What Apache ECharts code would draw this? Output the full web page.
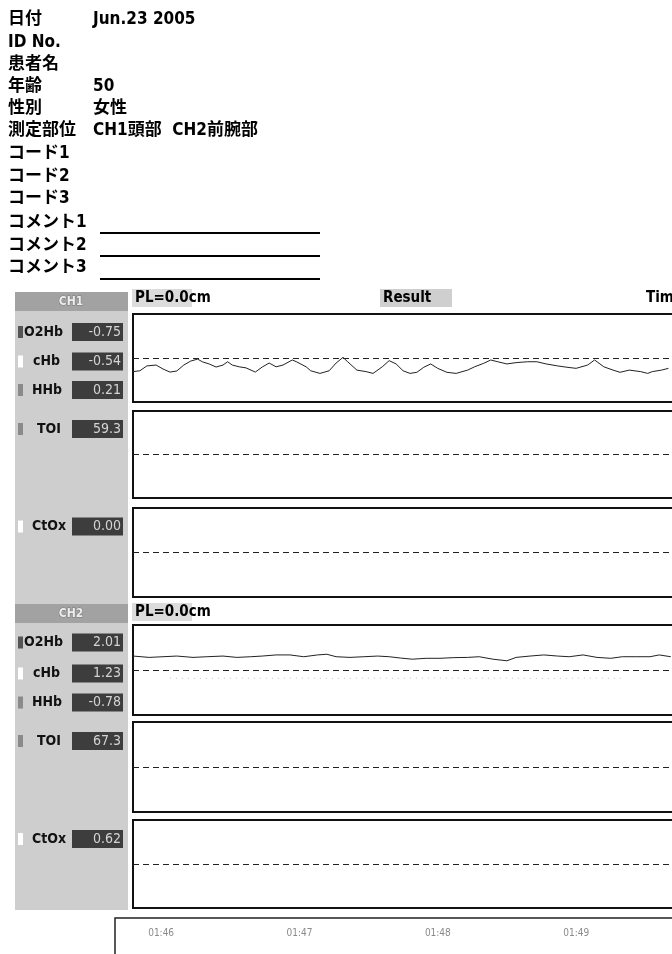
<!DOCTYPE html>
<html>
<head>
    <meta charset="utf-8">
    <script src="https://cdn.jsdelivr.net/npm/echarts@6/dist/echarts.min.js"></script>
    <style>
        body { margin: 0; background: #fff; }
        #main { width: 672px; height: 954px; }
    </style>
</head>
<body>
    <div id="main"></div>
    <script type="text/javascript">
        var infoLabels = ['日付', 'ID No.', '患者名', '年齢', '性別', '測定部位', 'コード1', 'コード2', 'コード3', 'コメント1', 'コメント2', 'コメント3'];
        var infoValues = ['Jun.23 2005', '', '', '50', '女性', 'CH1頭部  CH2前腕部', '', '', '', '', '', ''];

        var paramNames = ['O2Hb', 'cHb', 'HHb', 'TOI', 'CtOx'];
        var ch1Values = ['-0.75', '-0.54', '0.21', '59.3', '0.00'];
        var ch2Values = ['2.01', '1.23', '-0.78', '67.3', '0.62'];

        // time in seconds from 01:46:00
        var ch1Time = [-12, -9, -6, -2, 1, 4, 7, 10, 13, 16, 18, 21, 24, 27, 29, 31, 34, 37, 41, 44, 47, 50, 53, 57, 59, 63, 65, 69, 73, 76, 79, 81, 85, 89, 92, 96, 99, 102, 105, 108, 111, 114, 117, 120, 124, 128, 133, 136, 140, 143, 146, 150, 154, 159, 163, 167, 172, 176, 180, 185, 188, 192, 196, 199, 203, 208, 211, 213, 217, 220];
        var ch1Wave = [-0.62, -0.58, -0.36, -0.32, -0.50, -0.64, -0.59, -0.32, -0.14, -0.05, -0.17, -0.27, -0.41, -0.32, -0.17, -0.32, -0.40, -0.45, -0.64, -0.41, -0.23, -0.40, -0.32, -0.09, -0.18, -0.40, -0.58, -0.70, -0.58, -0.23, 0.03, -0.17, -0.55, -0.62, -0.70, -0.40, -0.12, -0.27, -0.58, -0.70, -0.65, -0.42, -0.27, -0.47, -0.65, -0.70, -0.55, -0.40, -0.24, -0.09, -0.17, -0.27, -0.21, -0.17, -0.17, -0.27, -0.36, -0.42, -0.47, -0.32, -0.09, -0.40, -0.55, -0.65, -0.55, -0.62, -0.70, -0.62, -0.55, -0.47];

        var ch2Time = [-12, -5, 1, 7, 14, 20, 27, 33, 39, 44, 50, 56, 62, 68, 72, 76, 82, 88, 94, 99, 104, 109, 115, 121, 127, 133, 138, 144, 150, 154, 160, 166, 172, 177, 183, 189, 195, 200, 206, 212, 216, 221];
        var ch2Wave = [0.62, 0.56, 0.59, 0.62, 0.56, 0.59, 0.62, 0.56, 0.59, 0.62, 0.67, 0.67, 0.59, 0.67, 0.70, 0.59, 0.56, 0.59, 0.62, 0.59, 0.53, 0.48, 0.52, 0.52, 0.55, 0.56, 0.59, 0.48, 0.41, 0.56, 0.62, 0.67, 0.62, 0.59, 0.67, 0.56, 0.52, 0.59, 0.59, 0.59, 0.67, 0.59];

        var ch2FaintTime = [4, 18, 32, 46, 60, 74, 88, 104, 118, 132, 150, 166, 184, 200];
        var ch2Faint = [-0.36, -0.38, -0.36, -0.37, -0.36, -0.38, -0.36, -0.37, -0.35, -0.37, -0.36, -0.38, -0.36, -0.37];

        var timeTicks = [0, 60, 120, 180];
        var timeLabels = ['01:46', '01:47', '01:48', '01:49'];

        var narrow = "'Liberation Sans Narrow', 'DejaVu Sans Condensed', 'Noto Sans CJK JP', sans-serif";

        function zip(xs, ys) {
            return xs.map(function(x, i) { return [x, ys[i]]; });
        }

        var myChart = echarts.init(document.getElementById('main'), null, { renderer: 'canvas' });

        // grid layout
        var gridTops = [314, 411, 508, 625, 722, 820];
        var gridHeights = [88, 87, 89, 90, 90, 88];

        var grids = [], xAxes = [], yAxes = [], series = [];
        for (var g = 0; g < 6; g++) {
            grids.push({ left: 133, right: -8, top: gridTops[g], height: gridHeights[g], show: true,
                outerBoundsMode: 'none', borderColor: '#111', borderWidth: 2, backgroundColor: '#fff' });
            xAxes.push({ gridIndex: g, type: 'value', min: -12, max: 225, show: false });
            yAxes.push({ gridIndex: g, type: 'value', min: -2, max: 2, show: false });
            series.push({
                type: 'line', xAxisIndex: g, yAxisIndex: g, data: [], silent: true,
                markLine: {
                    silent: true, symbol: 'none', label: { show: false },
                    lineStyle: { type: [6, 4], color: '#222', width: 1.2 },
                    data: [{ yAxis: 0 }]
                }
            });
        }
        // time box, bottom runs off the page
        grids.push({ left: 115, right: -8, top: 918, height: 90, show: true, outerBoundsMode: 'none',
            borderColor: '#222', borderWidth: 1.5 });
        xAxes.push({
            gridIndex: 6, type: 'value', min: -20, max: 225, position: 'top',
            axisLine: { show: false }, axisTick: { show: false }, splitLine: { show: false },
            axisLabel: {
                inside: true, margin: 10, color: '#8a8a8a', fontSize: 10, fontFamily: narrow,
                customValues: timeTicks,
                formatter: function(v) { return timeLabels[timeTicks.indexOf(v)] || ''; }
            }
        });
        yAxes.push({ gridIndex: 6, type: 'value', show: false });

        series.push({
            name: 'CH1', type: 'line', xAxisIndex: 0, yAxisIndex: 0, symbol: 'none',
            lineStyle: { color: '#222', width: 1 }, data: zip(ch1Time, ch1Wave)
        });
        series.push({
            name: 'CH2', type: 'line', xAxisIndex: 3, yAxisIndex: 3, symbol: 'none',
            lineStyle: { color: '#222', width: 1 }, data: zip(ch2Time, ch2Wave)
        });
        series.push({
            name: 'CH2 faint', type: 'line', xAxisIndex: 3, yAxisIndex: 3, symbol: 'none',
            lineStyle: { color: '#c4c4c4', width: 1, type: [1, 5] }, data: zip(ch2FaintTime, ch2Faint)
        });

        // header text and side panel
        var gfx = [];
        var rowY = [20, 43, 65, 87, 109, 131, 154, 177, 199, 223, 246, 268];
        infoLabels.forEach(function(lab, i) {
            gfx.push({ type: 'text', x: 8, y: rowY[i], style: { text: lab, fontSize: 17, fontWeight: 'bold',
                fontFamily: narrow, fill: '#000', verticalAlign: 'middle' } });
            if (infoValues[i]) {
                gfx.push({ type: 'text', x: 93, y: rowY[i], style: { text: infoValues[i], fontSize: 17, fontWeight: 'bold',
                    fontFamily: narrow, fill: '#000', verticalAlign: 'middle' } });
            }
        });
        [233, 256, 279].forEach(function(y) {
            gfx.push({ type: 'line', shape: { x1: 100, y1: y, x2: 320, y2: y }, style: { stroke: '#000', lineWidth: 2 } });
        });

        gfx.push({ type: 'rect', shape: { x: 15, y: 292, width: 113, height: 618 }, style: { fill: '#cecece' } });

        var swatch = ['#555', '#fff', '#8a8a8a', '#8a8a8a', '#fff'];
        var nameX = [24, 33, 32, 37, 32];
        function panel(title, top, ys, values) {
            gfx.push({ type: 'rect', shape: { x: 15, y: top, width: 113, height: 19 }, style: { fill: '#a2a2a2' } });
            gfx.push({ type: 'text', x: 71, y: top + 10, style: { text: title, fontSize: 12, fontWeight: 'bold',
                fontFamily: narrow, fill: '#eee', stroke: '#777', lineWidth: 1, align: 'center', verticalAlign: 'middle' } });
            ys.forEach(function(y, i) {
                gfx.push({ type: 'rect', shape: { x: 18, y: y - 6, width: 5, height: 12 }, style: { fill: swatch[i] } });
                gfx.push({ type: 'text', x: nameX[i], y: y, style: { text: paramNames[i], fontSize: 14, fontWeight: 'bold',
                    fontFamily: narrow, fill: '#111', verticalAlign: 'middle' } });
                gfx.push({ type: 'rect', shape: { x: 72, y: y - 9, width: 51, height: 18 }, style: { fill: '#3d3d3d' } });
                gfx.push({ type: 'text', x: 121, y: y, style: { text: values[i], fontSize: 14,
                    fontFamily: narrow, fill: '#d4d4d4', align: 'right', verticalAlign: 'middle' } });
            });
        }
        panel('CH1', 292, [332, 361.5, 390, 429, 526.5], ch1Values);
        panel('CH2', 604, [642.5, 673.5, 702.5, 741, 839], ch2Values);

        function tag(text, x, y, w, bg) {
            if (bg) {
                gfx.push({ type: 'rect', shape: { x: x, y: y - 9, width: w, height: 18 }, style: { fill: bg } });
            }
            gfx.push({ type: 'text', x: x + 3, y: y, style: { text: text, fontSize: 15, fontWeight: 'bold',
                fontFamily: narrow, fill: '#000', verticalAlign: 'middle' } });
        }
        tag('PL=0.0cm', 132, 298, 60, '#dcdcdc');
        tag('PL=0.0cm', 132, 612, 60, '#dcdcdc');
        tag('Result', 380, 298, 72, '#cfcfcf');
        tag('Tim', 643, 298, 0, null);

        myChart.setOption({
            animation: false,
            backgroundColor: '#fff',
            grid: grids,
            xAxis: xAxes,
            yAxis: yAxes,
            series: series,
            graphic: gfx
        });
    </script>
</body>
</html>
